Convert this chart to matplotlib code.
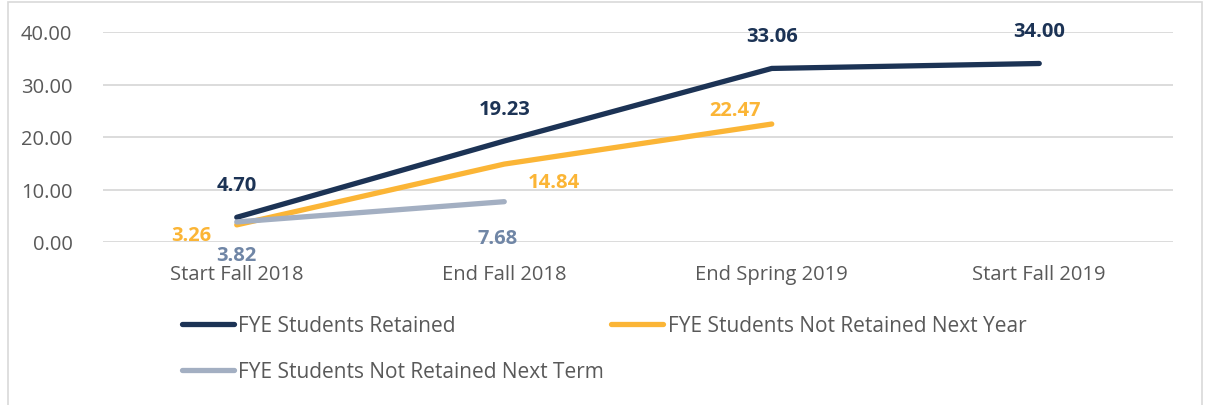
import matplotlib
matplotlib.use("Agg")
import matplotlib.pyplot as plt
from matplotlib.patches import Rectangle

categories = ["Start Fall 2018", "End Fall 2018", "End Spring 2019", "Start Fall 2019"]
retained = [4.70, 19.23, 33.06, 34.00]
not_next_year = [3.26, 14.84, 22.47]
not_next_term = [3.82, 7.68]
yticks = [0, 10, 20, 30, 40]

navy = "#1C3355"
gold = "#FBB536"
grey = "#A3AFC2"
grey_lbl = "#7086A6"
txt = "#595959"

plt.rcParams['font.family'] = ['Open Sans', 'DejaVu Sans']

W, H = 1205, 406
fig = plt.figure(figsize=(W/100, H/100), dpi=100)
fig.patches.append(Rectangle((8/W, -0.1), (1202-8)/W, 1.1 - 3/H, transform=fig.transFigure,
                             fill=False, edgecolor="#D9D9D9", linewidth=1.2))

ax = fig.add_axes([103/W, 1-243/H, (1173-103)/W, (243-33)/H])
x = list(range(len(categories)))
lw = 3.8
l1, = ax.plot(x[:len(retained)], retained, color=navy, lw=lw, solid_capstyle='round', label="FYE Students Retained", zorder=3)
l2, = ax.plot(x[:len(not_next_year)], not_next_year, color=gold, lw=lw, solid_capstyle='round', label="FYE Students Not Retained Next Year", zorder=3)
l3, = ax.plot(x[:len(not_next_term)], not_next_term, color=grey, lw=lw, solid_capstyle='round', label="FYE Students Not Retained Next Term", zorder=3)

ax.set_xlim(-0.5, 3.5)
ax.set_ylim(0, 40)
ax.set_yticks(yticks)
ax.set_yticklabels([f"{v:.2f}" for v in yticks])
ax.set_xticks(x)
ax.set_xticklabels(categories)
ax.tick_params(axis='both', length=0, labelsize=14.5, colors=txt)
ax.tick_params(axis='y', pad=22)
ax.tick_params(axis='x', pad=16)
for s in ax.spines.values():
    s.set_visible(False)
ax.grid(axis='y', color="#D9D9D9", lw=1.3)
ax.set_axisbelow(True)

fs = 14.5
def lab(xi, yi, val, color, dx, dy, ha='center'):
    ax.annotate(f"{val:.2f}", (xi, yi), xytext=(dx, dy), textcoords='offset pixels',
                ha=ha, va='center', fontsize=fs, fontweight='bold', color=color)

for i, v in enumerate(retained):
    lab(i, v, v, navy, 0, 32)
lab(0, not_next_year[0], not_next_year[0], gold, -46, -10)
lab(1, not_next_year[1], not_next_year[1], gold, 50, -18)
lab(2, not_next_year[2], not_next_year[2], gold, -37, 14)
lab(0, not_next_term[0], not_next_term[0], grey_lbl, 0, -33)
lab(1, not_next_term[1], not_next_term[1], grey_lbl, -7, -36)

leg = fig.legend(handles=[l1, l3, l2], loc='upper left', bbox_to_anchor=(182/W, 1-316/H),
                 ncol=2, frameon=False, fontsize=15, handlelength=2.5, handletextpad=0.2,
                 columnspacing=0.35, labelspacing=1.2, borderaxespad=0, borderpad=0)
for t in leg.get_texts():
    t.set_color(txt)

fig.savefig("out.png", dpi=100)
